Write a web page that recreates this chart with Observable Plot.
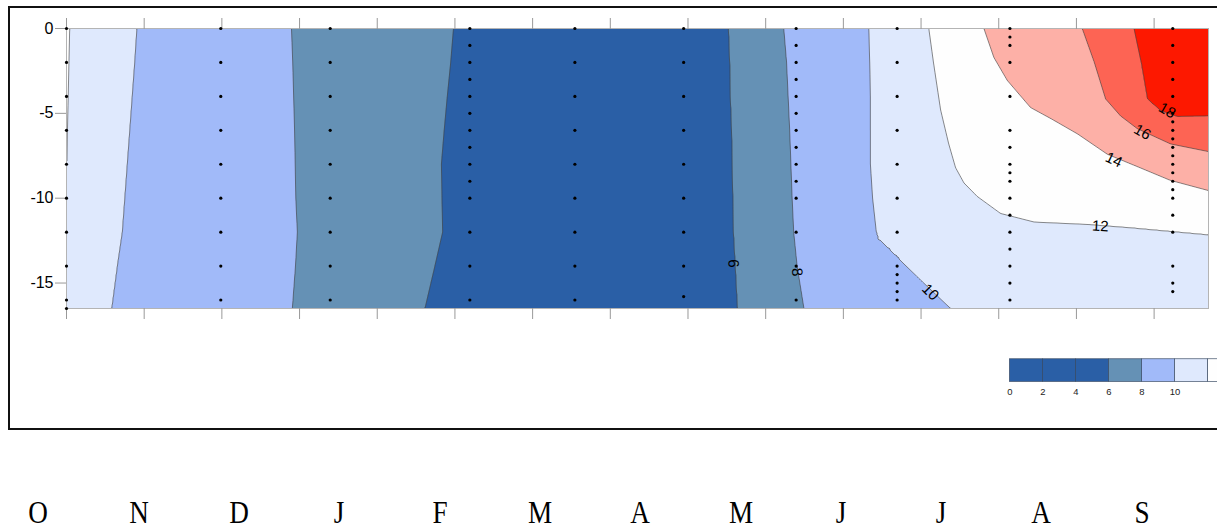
<!DOCTYPE html>
<html><head><meta charset="utf-8">
<script src="https://cdn.jsdelivr.net/npm/d3@7"></script>
<script src="https://cdn.jsdelivr.net/npm/@observablehq/plot@0.6"></script>
<style>
html,body{margin:0;padding:0;background:#fff;}
#page{position:relative;width:1217px;height:529px;overflow:hidden;font-family:"Liberation Sans",Arial,sans-serif;}
#box{position:absolute;left:8px;top:6px;width:1240px;height:424px;border:2px solid #111;box-sizing:border-box;}
#chart{position:absolute;left:0;top:0;}
#legend{position:absolute;left:1000px;top:355px;}
#months{position:absolute;left:-11.8px;top:496px;display:flex;font-family:"Liberation Serif","Times New Roman",serif;font-size:32px;line-height:32px;color:#000;white-space:nowrap;}
#months span{display:inline-block;width:100.33px;text-align:center;transform:scaleX(0.85);}
</style></head>
<body><div id="page"><div id="box"></div><div id="chart"></div><div id="legend"></div><div id="months"></div></div>
<script>
// ---------- data ----------
const months = ["O","N","D","J","F","M","A","M","J","J","A","S"];
const depthTicks = [0, -5, -10, -15];
const dayTicks = [0,25,50,75,100,125,150,175,200,225,250,275,300,325,350];
const levels = [6, 8, 10, 12, 14, 16, 18];
const contourLevels = [0, 2, 4, 6, 8, 10, 12, 14, 16, 18];
const bandColors = ["#2a5fa6","#6591b5","#a1baf9","#dfe9fd","#fefefe","#fdb0a7","#fd6454","#fd1800"];
const legendLevels = [0, 2, 4, 6, 8, 10, 12];

// sampling stations (day from start of record, depth in m)
const stationDays = [0, 49.65, 84.86, 129.8, 163.6, 198.6, 234.8, 267.3, 303.6, 356.0];
const stationDepths = [
  [0,-2,-4,-6,-8,-10,-12,-14,-16,-16.5],
  [0,-2,-4,-6,-8,-10,-12,-14,-16],
  [0,-2,-4,-6,-8,-10,-12,-14,-16],
  [0,-1,-2,-3,-4,-5,-6,-7,-8,-9,-10,-12,-14,-16],
  [0,-2,-4,-6,-8,-10,-12,-14,-16],
  [0,-2,-4,-6,-8,-10,-12,-14,-15.8],
  [0,-1,-2,-3,-4,-5,-6,-7,-8,-9,-10,-12,-14,-16],
  [0,-2,-4,-6,-8,-10,-12,-14,-14.5,-15,-15.5,-16],
  [0,-0.5,-1,-2,-4,-6,-7,-8,-8.5,-9,-10,-11,-12,-13,-14,-15,-16],
  [0,-1,-2,-3,-4,-5,-5.5,-6,-6.5,-7,-7.5,-8,-8.5,-9,-9.5,-10,-11,-12,-14,-15,-15.5]
];

// isotherm positions [day, depth]
const iso10a = [[22.6,0],[21.9,-2],[21.1,-4],[20.3,-6],[19.5,-8],[18.7,-10],[17.9,-12],[16.3,-14],[14.5,-16.5]];
const iso8a  = [[72.4,0],[72.8,-2],[73.1,-4],[73.4,-6],[73.6,-8],[73.8,-10],[74.3,-12],[73.7,-14],[72.7,-16.5]];
const iso6a  = [[124.5,0],[123.6,-2],[122.5,-4],[121.5,-6],[120.6,-8],[120.8,-10],[121.0,-12],[118.5,-14],[115.3,-16.5]];
const iso6b  = [[213.1,0],[213.5,-2],[213.7,-4],[214.1,-6],[214.3,-8],[214.5,-10],[214.7,-12],[215.3,-14],[216.0,-16.5]];
const iso8b  = [[230.8,0],[231.7,-2],[232.2,-4],[232.7,-6],[233.1,-8],[233.5,-10],[234.0,-12],[235.1,-14],[237.3,-16.5]];
const iso10b = [[258.2,0],[258.5,-2],[258.7,-4],[258.7,-6],[258.7,-8],[259.4,-10],[260.6,-12],[261.1,-12.4],[270.2,-14],[277.3,-15.25],[284.5,-16.5]];
const iso12  = [[277.5,0],[279.0,-2],[281.3,-4.8],[283.9,-6.8],[286.1,-8.2],[288.8,-9.1],[293.1,-9.9],[300.6,-10.9],[311.3,-11.4],[329.5,-11.55],[343.5,-11.75],[367.5,-12.15]];
const iso14  = [[295.2,0],[298.4,-1.7],[302.7,-3.05],[310.2,-4.65],[317.7,-5.4],[325.3,-6.2],[334.9,-7.4],[343.5,-8.05],[355.3,-8.95],[367.5,-9.55]];
const iso16  = [[326.9,0],[330.6,-1.9],[334.4,-4.15],[339.2,-5.15],[344.6,-5.9],[355.3,-6.8],[367.5,-7.25]];
const iso18  = [[343.5,0],[345.7,-1.9],[347.8,-4.15],[352.1,-4.85],[357.5,-5.2],[367.5,-5.15]];

// other temperature readings [day, depth, temp]
const otherReadings = [
  [0,0,12.1],[0,-6,12.03],[0,-10,12.0],[0,-16.5,11.95],
  [163.6,0,5],[163.6,-4,5],[163.6,-8,5],[163.6,-12,5],[163.6,-16.5,5],
  [356,0,19],[367.5,0,19.2],[367.5,-2.5,18.8],
  [320,-16.5,10.9],[367.5,-16.5,11.2]
];

// contour labels
const isoLabels = [
  {t:"6",  day:214.6, depth:-13.85, angle:87},
  {t:"8",  day:235.1, depth:-14.36, angle:84},
  {t:"10", day:278.0, depth:-15.54, angle:45},
  {t:"12", day:332.7, depth:-11.65, angle:3},
  {t:"14", day:337.0, depth:-7.74,  angle:25},
  {t:"16", day:346.2, depth:-6.11,  angle:30},
  {t:"18", day:354.2, depth:-4.83,  angle:30}
];

// ---------- build ----------
const iso = (pts, t) => pts.map(([day, depth]) => ({day, depth, temp: t}));
const field = [
  ...iso(iso6a,6), ...iso(iso6b,6), ...iso(iso8a,8), ...iso(iso8b,8),
  ...iso(iso10a,10), ...iso(iso10b,10), ...iso(iso12,12), ...iso(iso14,14),
  ...iso(iso16,16), ...iso(iso18,18),
  ...otherReadings.map(([day, depth, temp]) => ({day, depth, temp}))
];
const samples = stationDays.flatMap((day, i) => stationDepths[i].map(depth => ({day, depth})));
const color = {type: "threshold", domain: levels, range: bandColors};

const chart = Plot.plot({
  width: 1217, height: 440,
  marginLeft: 66, marginRight: 9, marginTop: 28, marginBottom: 132,
  x: {domain: [0, 367.5], axis: null},
  y: {domain: [-16.5, 0], axis: null},
  color,
  style: {fontFamily: "Liberation Sans, Arial, sans-serif", fontSize: "16px", background: "transparent", overflow: "visible"},
  marks: [
    Plot.contour(field, {x: "day", y: "depth", value: "temp", fill: "value", thresholds: contourLevels,
      interpolate: "barycentric", pixelSize: 1, stroke: "#3a3a3a", strokeWidth: 0.6, clip: true}),
    Plot.frame({stroke: "#b4b4b4"}),
    Plot.axisX({anchor: "bottom", ticks: dayTicks, tickSize: 11, tickFormat: () => "", stroke: "#999", label: null}),
    Plot.axisX({anchor: "top", ticks: dayTicks, tickSize: 11, tickFormat: () => "", stroke: "#999", label: null}),
    Plot.axisY({ticks: depthTicks, tickSize: 11, tickPadding: 2, fontSize: 16, stroke: "#999", fill: "#000",
      tickFormat: d => String(d), label: null}),
    Plot.dot(samples, {x: "day", y: "depth", r: 1.6, fill: "#000"}),
    Plot.text(isoLabels, {x: "day", y: "depth", text: "t", rotate: "angle", fontSize: 15, fill: "#000"})
  ]
});
document.getElementById("chart").append(chart);

const legend = Plot.plot({
  width: 230, height: 48, marginLeft: 10, marginRight: 10, marginTop: 4, marginBottom: 20,
  x: {domain: [0, 12], axis: null},
  y: {domain: [0, 1], axis: null},
  color,
  style: {fontFamily: "Liberation Sans, Arial, sans-serif", fontSize: "10px", background: "transparent", overflow: "visible"},
  marks: [
    Plot.rect(legendLevels, {x1: d => d, x2: d => d + 2, y1: 0, y2: 1, fill: d => d, stroke: "#34465f", strokeWidth: 0.7}),
    Plot.axisX({ticks: [0,2,4,6,8,10], tickSize: 0, tickPadding: 7, fontSize: 10, fill: "#222", label: null})
  ]
});
document.getElementById("legend").append(legend);

const mdiv = document.getElementById("months");
for (const m of months) { const s = document.createElement("span"); s.textContent = m; mdiv.append(s); }
</script></body></html>
